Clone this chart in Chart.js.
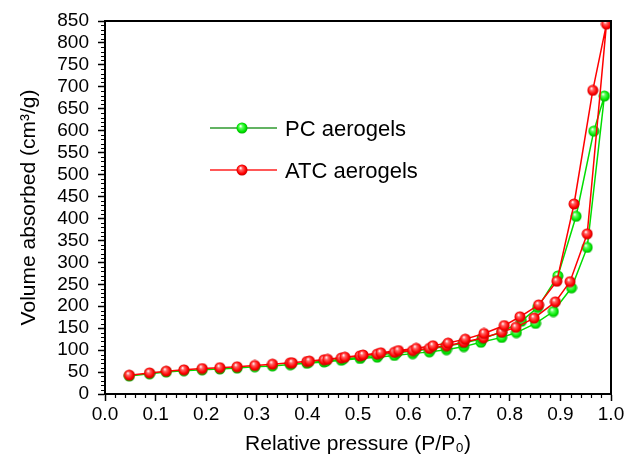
<!DOCTYPE html>
<html>
<head>
<meta charset="utf-8">
<script src="https://cdn.jsdelivr.net/npm/chart.js@4.4.1/dist/chart.umd.min.js"></script>
<style>
  html, body { margin: 0; padding: 0; background: #fff; }
  #wrap { width: 627px; height: 463px; position: relative; }
</style>
</head>
<body>
<div id="wrap"><canvas id="iso"></canvas></div>
<script>
// adsorption branch (P/P0 and volume, cm3/g)
const pcAdsP = [0.048, 0.088, 0.121, 0.156, 0.192, 0.227, 0.261, 0.296, 0.331, 0.366, 0.399, 0.433, 0.467, 0.504,
  0.538, 0.572, 0.608, 0.641, 0.675, 0.709, 0.743, 0.784, 0.813, 0.851, 0.886, 0.922, 0.953, 0.987];
const pcAds = [41, 46, 50, 53, 55, 57, 59, 62, 64, 67, 70, 73, 77, 81,
  84, 88, 92, 96, 101, 108, 118, 129, 140, 161, 188, 242, 334, 679];
const atcAdsP = [0.048, 0.088, 0.121, 0.156, 0.192, 0.227, 0.261, 0.296, 0.331, 0.366, 0.399, 0.433, 0.467, 0.504,
  0.538, 0.572, 0.608, 0.641, 0.675, 0.709, 0.748, 0.784, 0.812, 0.848, 0.890, 0.919, 0.953, 0.991];
const atcAds = [43, 48, 52, 55, 58, 60, 62, 65, 68, 71, 74, 78, 82, 87,
  91, 95, 99, 104, 110, 118, 128, 141, 152, 173, 210, 256, 365, 843];

// desorption branch
const pcDesP = [0.966, 0.931, 0.895, 0.855, 0.823, 0.784, 0.745, 0.708, 0.673, 0.645, 0.612, 0.577, 0.541, 0.506, 0.471, 0.437, 0.402, 0.368];
const pcDes = [599, 405, 269, 197, 166, 141, 126, 116, 108, 103, 98, 94, 89, 84, 80, 75, 72, 68];
const atcDesP = [0.964, 0.927, 0.893, 0.857, 0.820, 0.789, 0.749, 0.712, 0.678, 0.648, 0.615, 0.580, 0.545, 0.510, 0.474, 0.440, 0.404, 0.370];
const atcDes = [692, 433, 257, 203, 176, 156, 138, 125, 116, 110, 104, 99, 94, 89, 84, 79, 75, 71];

const seriesNames = ['PC aerogels', 'ATC aerogels'];

function toPoints(ap, av, dp, dv) {
  return ap.map((p, i) => ({ x: p, y: av[i] })).concat(dp.map((p, i) => ({ x: p, y: dv[i] })));
}

// small shaded ball used as marker
function makeBall(light, mid, dark) {
  const c = document.createElement('canvas');
  c.width = 12; c.height = 12;
  const g = c.getContext('2d');
  const grad = g.createRadialGradient(4.5, 4, 0.3, 6, 6, 6);
  grad.addColorStop(0, '#ffffff');
  grad.addColorStop(0.25, light);
  grad.addColorStop(0.7, mid);
  grad.addColorStop(1, dark);
  g.fillStyle = grad;
  g.beginPath();
  g.arc(6, 6, 5.5, 0, Math.PI * 2);
  g.fill();
  return c;
}
const greenBall = makeBall('#66ff66', '#00e600', '#00a000');
const redBall = makeBall('#ff6666', '#ff0000', '#b00000');

const frameAndMinor = {
  id: 'frameAndMinor',
  afterDraw(chart) {
    const { ctx, chartArea: a, scales: { x, y } } = chart;
    ctx.save();
    ctx.strokeStyle = '#000';
    ctx.lineWidth = 1.2;
    ctx.beginPath();
    for (let i = 0; i <= 50; i++) {
      if (i % 5 === 0) continue;
      const px = Math.round(x.getPixelForValue(i * 0.02)) + 0.5;
      ctx.moveTo(px, a.bottom);
      ctx.lineTo(px, a.bottom + 4);
    }
    for (let i = 0; i <= 85; i++) {
      if (i % 5 === 0) continue;
      const py = Math.round(y.getPixelForValue(i * 10)) + 0.5;
      ctx.moveTo(a.left, py);
      ctx.lineTo(a.left - 4, py);
    }
    ctx.stroke();
    ctx.lineWidth = 2;
    ctx.strokeRect(a.left, a.top, a.right - a.left, a.bottom - a.top);
    ctx.restore();
  }
};

const boxLegend = {
  id: 'boxLegend',
  afterDraw(chart) {
    const ctx = chart.ctx;
    const rows = [
      { y: 128, line: '#2f9a2f', ball: greenBall, text: seriesNames[0] },
      { y: 170, line: '#ff2020', ball: redBall, text: seriesNames[1] },
    ];
    ctx.save();
    ctx.font = '22px "Liberation Sans", Arial, sans-serif';
    ctx.textBaseline = 'middle';
    ctx.fillStyle = '#000';
    rows.forEach(r => {
      ctx.strokeStyle = r.line;
      ctx.lineWidth = 1.5;
      ctx.beginPath();
      ctx.moveTo(210, r.y);
      ctx.lineTo(277, r.y);
      ctx.stroke();
      ctx.drawImage(r.ball, 236, r.y - 6);
      ctx.fillText(r.text, 285, r.y + 2);
    });
    ctx.restore();
  }
};

const axisFont = { family: '"Liberation Sans", Arial, sans-serif', size: 19 };

new Chart(document.getElementById('iso'), {
  type: 'scatter',
  data: {
    datasets: [
      {
        label: seriesNames[0],
        data: toPoints(pcAdsP, pcAds, pcDesP, pcDes),
        showLine: true,
        borderColor: '#00dd00',
        borderWidth: 1.5,
        pointStyle: greenBall,
        order: 1,
      },
      {
        label: seriesNames[1],
        data: toPoints(atcAdsP, atcAds, atcDesP, atcDes),
        showLine: true,
        borderColor: '#ff0000',
        borderWidth: 1.5,
        pointStyle: redBall,
        order: 0,
      },
    ],
  },
  options: {
    responsive: true,
    maintainAspectRatio: false,
    animation: false,
    layout: { padding: { top: 21, right: 16, left: 0, bottom: 0 } },
    plugins: {
      legend: { display: false },
      tooltip: { enabled: false },
    },
    scales: {
      x: {
        type: 'linear',
        min: 0,
        max: 1,
        afterFit: s => { s.height = 69; },
        afterBuildTicks: s => { s.ticks = [0, 0.1, 0.2, 0.3, 0.4, 0.5, 0.6, 0.7, 0.8, 0.9, 1.0].map(v => ({ value: v })); },
        border: { display: true, color: '#000', width: 2 },
        grid: { drawOnChartArea: false, drawTicks: true, tickLength: 7, tickColor: '#000', tickWidth: 1.5 },
        ticks: {
          color: '#000',
          font: axisFont,
          padding: 2,
          maxRotation: 0,
          autoSkip: false,
          callback: v => v.toFixed(1),
        },
        title: {
          display: true,
          text: 'Relative pressure (P/P\u2080)',
          color: '#000',
          font: { family: axisFont.family, size: 21 },
          padding: { top: 0, bottom: 6 },
        },
      },
      y: {
        type: 'linear',
        min: 0,
        max: 850,
        afterFit: s => { s.width = 105; },
        border: { display: true, color: '#000', width: 2 },
        grid: { drawOnChartArea: false, drawTicks: true, tickLength: 7, tickColor: '#000', tickWidth: 1.5 },
        ticks: {
          color: '#000',
          font: axisFont,
          stepSize: 50,
          padding: 9,
          autoSkip: false,
        },
        title: {
          display: true,
          text: 'Volume absorbed (cm\u00b3/g)',
          color: '#000',
          font: { family: axisFont.family, size: 21 },
          padding: { top: 17, bottom: 0 },
        },
      },
    },
  },
  plugins: [frameAndMinor, boxLegend],
});
</script>
</body>
</html>
